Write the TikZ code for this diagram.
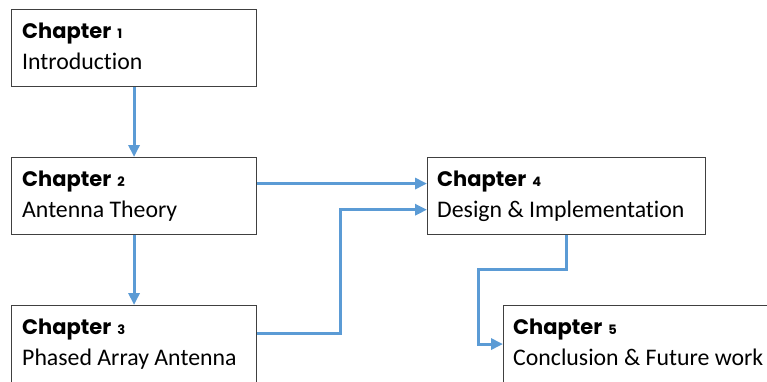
\documentclass[tikz,border=0pt]{standalone}
\usepackage{fontspec}
\setmainfont{Carlito}[Ligatures=NoCommon]
\newfontfamily\chapfont{Poppins}
\usetikzlibrary{arrows.meta,calc}
\definecolor{arrblue}{HTML}{5B9BD5}
\definecolor{boxgray}{HTML}{404040}
\tikzset{
  chbox/.style={draw=boxgray, line width=1.1pt, rectangle, anchor=north west, inner sep=0pt},
  chhead/.style={anchor=base west, inner sep=0pt, font=\chapfont\fontsize{21}{21}\selectfont\bfseries},
  chtitle/.style={anchor=base west, inner sep=0pt, font=\fontsize{23.8}{24}\selectfont},
  arr/.style={draw=arrblue, line width=3pt, -{Triangle[length=12pt,width=11pt]}},
}
\newcommand{\chnum}[1]{\hspace{6pt}{\fontsize{13}{13}\selectfont\bfseries #1}}
\begin{document}
\begin{tikzpicture}[x=1pt,y=-1pt]
\useasboundingbox (0,0) rectangle (767,381);
\clip (0,0) rectangle (767,381);
% boxes
\node[chbox, minimum width=245pt, minimum height=77pt] (b1) at (11,9) {};
\node[chbox, minimum width=245pt, minimum height=77pt] (b2) at (11,157) {};
\node[chbox, minimum width=245pt, minimum height=77pt] (b3) at (11,305) {};
\node[chbox, minimum width=278pt, minimum height=77pt] (b4) at (427,157) {};
\node[chbox, minimum width=290pt, minimum height=77pt] (b5) at (503,305) {};
% texts
\node[chhead] (h1) at ($(b1.north west)+(11,29)$) {Chapter\chnum{1}};
\node[chtitle] (t1) at ($(b1.north west)+(11,60)$) {Introduction};
\node[chhead] (h2) at ($(b2.north west)+(11,29)$) {Chapter\chnum{2}};
\node[chtitle] (t2) at ($(b2.north west)+(11,60)$) {Antenna Theory};
\node[chhead] (h3) at ($(b3.north west)+(11,29)$) {Chapter\chnum{3}};
\node[chtitle] (t3) at ($(b3.north west)+(11,60)$) {Phased Array Antenna};
\node[chhead] (h4) at ($(b4.north west)+(10,29)$) {Chapter\chnum{4}};
\node[chtitle] (t4) at ($(b4.north west)+(10,60)$) {Design \& Implementation};
\node[chhead] (h5) at ($(b5.north west)+(10,29)$) {Chapter\chnum{5}};
\node[chtitle] (t5) at ($(b5.north west)+(10,60)$) {Conclusion \& Future work};
% connectors
\coordinate (p2) at ($(b2.north east)!0.34!(b2.south east)$);
\coordinate (p4a) at ($(b4.north west)!0.34!(b4.south west)$);
\coordinate (p3e) at ($(b3.north east)!0.36!(b3.south east)$);
\coordinate (p4b) at ($(b4.north west)!0.675!(b4.south west)$);
\coordinate (k34) at (340,0);
\coordinate (k45) at (478,269);
\draw[arr] (b1.south) -- (b2.north);
\draw[arr] (b2.south) -- (b3.north);
\draw[arr] (p2) -- (p4a);
\draw[arr] (p3e) -| (k34 |- p4b) -- (p4b);
\draw[arr] (b4.south) |- (k45) |- (b5.west);
\end{tikzpicture}
\end{document}
